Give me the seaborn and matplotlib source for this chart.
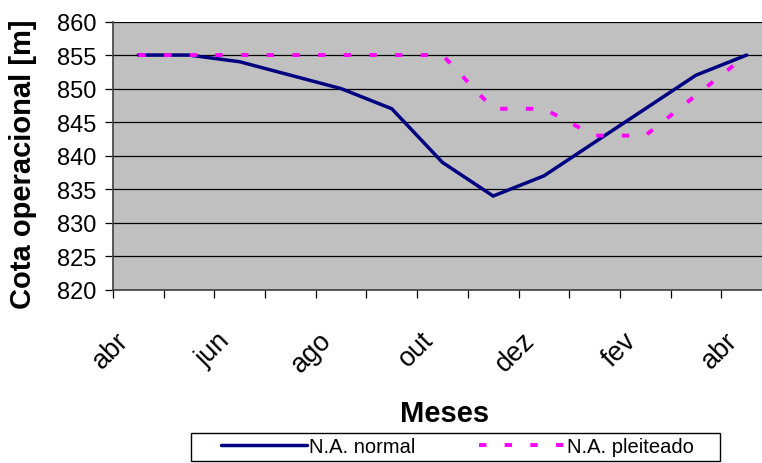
"""
Recreates the Excel-style reservoir level chart (cota operacional vs. meses).
"""

import pandas as pd
import matplotlib
matplotlib.use("Agg")
import matplotlib.pyplot as plt
from matplotlib.patches import Rectangle
import seaborn as sns

# Data
months = ['abr', 'mai', 'jun', 'jul', 'ago', 'set', 'out',
          'nov', 'dez', 'jan', 'fev', 'mar', 'abr']
na_normal = [855, 855, 854, 852, 850, 847, 839, 834, 837, 842, 847, 852, 855]
na_pleiteado = [855, 855, 855, 855, 855, 855, 855, 847, 847, 843, 843, 849, 855]
y_ticks = [820, 825, 830, 835, 840, 845, 850, 855, 860]

NAVY = '#000080'
MAGENTA = '#FF00FF'
W, H = 762, 464
LABEL_SHIFT = -0.26  # rotated month labels sit a bit left of the category centre


def main():
    sns.set_theme(style='white')
    plt.rcParams['font.family'] = ['Liberation Sans', 'DejaVu Sans']
    plt.rcParams['text.color'] = 'black'
    plt.rcParams['axes.labelcolor'] = 'black'
    plt.rcParams['xtick.color'] = 'black'
    plt.rcParams['ytick.color'] = 'black'

    df = pd.DataFrame({
        'pos': list(range(len(months))) * 2,
        'cota': na_normal + na_pleiteado,
        'serie': ['N.A. normal'] * len(months) + ['N.A. pleiteado'] * len(months),
    })

    fig = plt.figure(figsize=(W / 100, H / 100), dpi=100)
    # plot area runs off the right edge, as in the original screenshot
    ax = fig.add_axes([113 / W, 173 / H, 659 / W, 268.5 / H])
    ax.set_facecolor('#C0C0C0')

    sns.lineplot(data=df[df['serie'] == 'N.A. normal'], x='pos', y='cota',
                 color=NAVY, linewidth=2.5, ax=ax, label='N.A. normal',
                 solid_capstyle='round', solid_joinstyle='miter')
    sns.lineplot(data=df[df['serie'] == 'N.A. pleiteado'], x='pos', y='cota',
                 color=MAGENTA, linewidth=2.8, ax=ax, label='N.A. pleiteado')
    ax.lines[1].set_dashes([1.9, 4.7])

    # axes
    ax.set_xlim(-0.5, len(months) - 0.5)
    ax.set_ylim(820, 860)
    ax.set_yticks(y_ticks)
    ax.set_yticklabels([str(v) for v in y_ticks], fontsize=17)
    ax.yaxis.grid(True, color='black', linewidth=0.9)
    ax.set_axisbelow(True)

    label_pos = list(range(0, len(months), 2))
    ax.set_xticks([p + LABEL_SHIFT for p in label_pos])
    ax.set_xticklabels([months[i] for i in label_pos], fontsize=19.5,
                       rotation=45, ha='right', va='center',
                       rotation_mode='anchor')
    ax.set_xticks([i - 0.5 for i in range(len(months))], minor=True)
    ax.tick_params(axis='x', which='major', length=0, pad=33)
    ax.tick_params(axis='x', which='minor', length=6, width=0.9,
                   color='black', direction='out', bottom=True)
    ax.tick_params(axis='y', length=6, width=0.9, color='black',
                   direction='out', left=True, pad=6)

    for side in ['top', 'right']:
        ax.spines[side].set_visible(False)
    for side in ['left', 'bottom']:
        ax.spines[side].set_color('#404040')
        ax.spines[side].set_linewidth(1.2)

    ax.set_xlabel('Meses', fontsize=21, fontweight='bold', va='center')
    ax.xaxis.set_label_coords(445 / W, 50 / H, transform=fig.transFigure)
    ax.set_ylabel('Cota operacional [m]', fontsize=21, fontweight='bold',
                  va='center')
    ax.yaxis.set_label_coords(23 / W, 300 / H, transform=fig.transFigure)

    # legend: frame drawn separately so the inner margins match the original
    leg = ax.legend(loc='center left', bbox_to_anchor=(221 / W, 16 / H),
                    bbox_transform=fig.transFigure, ncol=2, fontsize=14.5,
                    frameon=False, handlelength=4.25, handletextpad=0.1,
                    columnspacing=3.2, borderpad=0, borderaxespad=0)
    fig.patches.append(Rectangle((191 / W, 2 / H), 529 / W, 28 / H,
                                 transform=fig.transFigure, fill=False,
                                 edgecolor='black', linewidth=1.0))

    fig.savefig('out.png', dpi=100)
    plt.close(fig)


if __name__ == "__main__":
    main()
